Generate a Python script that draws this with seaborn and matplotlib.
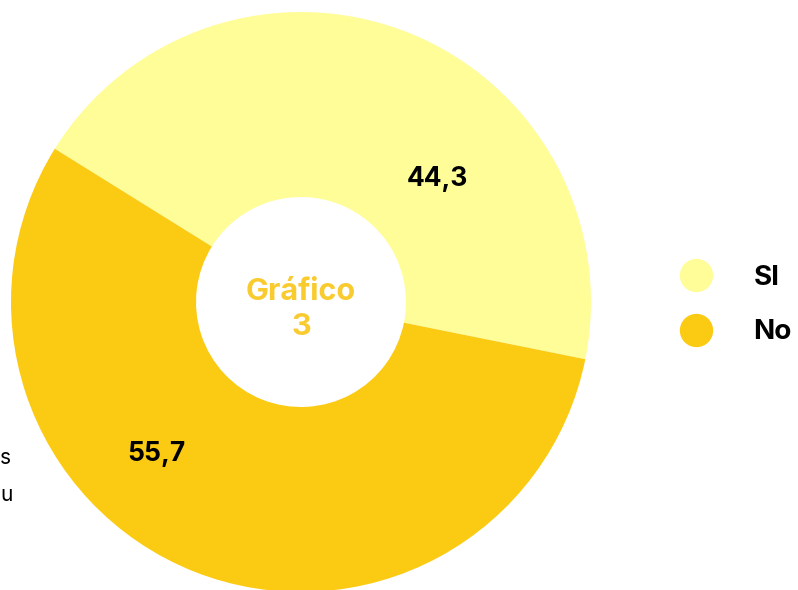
import matplotlib.pyplot as plt
from matplotlib.lines import Line2D
import seaborn as sns

# data
labels = ["SI", "No"]
values = [44.3, 55.7]
value_labels = ["44,3", "55,7"]
colors = ["#FFFD98", "#FBCB14"]

sns.set_theme(style="white")
plt.rcParams['font.family'] = ['Inter', 'DejaVu Sans']

fig = plt.figure(figsize=(7.98, 5.9), dpi=100)
ax = fig.add_axes([11 / 798, -2 / 590, 580 / 798, 580 / 590])

wedges, _ = ax.pie(values, colors=colors, startangle=148.1, counterclock=False,
                   radius=1.0, wedgeprops=dict(width=0.638, linewidth=0))
ax.set_xlim(-1, 1)
ax.set_ylim(-1, 1)
ax.set_aspect('equal')
ax.axis('off')

# value labels inside the ring
ax.text(0.47, 0.425, value_labels[0], ha='center', va='center',
        fontsize=19, fontweight='bold', color='black')
ax.text(-0.497, -0.525, value_labels[1], ha='center', va='center',
        fontsize=19, fontweight='bold', color='black')

# centre title
ax.text(0.0, -0.025, "Gráfico\n3", ha='center', va='center', fontsize=22,
        fontweight='bold', color='#F9CB2F', linespacing=1.3)

# legend
handles = [Line2D([0], [0], marker='o', linestyle='', markersize=23,
                  markerfacecolor=c, markeredgecolor=c) for c in colors]
fig.legend(handles, labels, loc='center left', bbox_to_anchor=(650 / 798, 1 - 305 / 590),
           frameon=False, handlelength=1.5, handletextpad=1.33,
           labelspacing=1.03, labelcolor='black', prop={'weight': 'bold', 'size': 20})

# cut-off text on the left edge
fig.text(0.0, 1 - 458 / 590, "s", ha='left', va='center', fontsize=15, color='black')
fig.text(0.0, 1 - 495 / 590, "u", ha='left', va='center', fontsize=15, color='black')

fig.savefig("out.png", dpi=100)
